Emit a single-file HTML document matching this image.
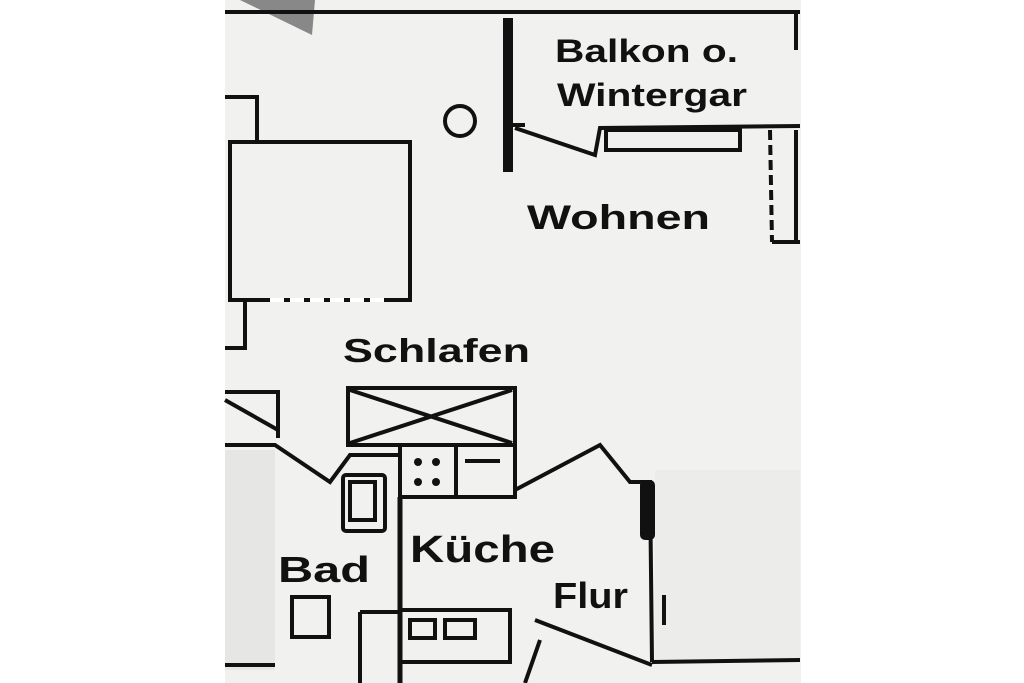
<!DOCTYPE html>
<html><head><style>
html,body{margin:0;padding:0;background:#fff;}
svg{display:block}
text{font-family:"Liberation Sans",sans-serif;fill:#111;}
</style></head><body>
<svg width="1024" height="683" viewBox="0 0 1024 683">
<rect x="0" y="0" width="1024" height="683" fill="#fff"/>
<rect x="225" y="0" width="576" height="683" fill="#f1f1ef"/>
<rect x="225" y="450" width="50" height="220" fill="#e6e6e4"/>
<rect x="655" y="470" width="145" height="190" fill="#ececeb"/>
<polygon points="240,0 315,0 312,35" fill="#888"/>
<g stroke="#111" fill="none" stroke-width="4">
<line x1="225" y1="12" x2="800" y2="12"/>
<line x1="508" y1="18" x2="508" y2="172" stroke-width="10"/>
<line x1="508" y1="125" x2="525" y2="125"/>
<circle cx="460" cy="121" r="15"/>
<polyline points="515,128 595,155 600,128 800,126"/>
<rect x="606" y="130" width="134" height="20"/>
<line x1="770" y1="130" x2="772" y2="242" stroke-dasharray="10 5"/>
<line x1="772" y1="242" x2="800" y2="242"/>
<line x1="796" y1="12" x2="796" y2="50"/>
<line x1="796" y1="130" x2="796" y2="240"/>
<polyline points="225,97 257,97 257,142"/>
<rect x="230" y="142" width="180" height="158"/>
<line x1="270" y1="300" x2="390" y2="300" stroke-dasharray="14 6" stroke="#fff"/>
<polyline points="245,300 245,348 225,348"/>
<rect x="348" y="388" width="167" height="57"/>
<line x1="350" y1="390" x2="512" y2="443"/>
<line x1="350" y1="443" x2="512" y2="390"/>
<rect x="400" y="445" width="115" height="52"/>
<line x1="456" y1="447" x2="456" y2="497"/>
<line x1="465" y1="461" x2="500" y2="461"/>
<line x1="400" y1="497" x2="400" y2="683" stroke-width="5"/>
<polyline points="225,392 278,392 278,438"/>
<line x1="225" y1="400" x2="278" y2="430"/>
<polyline points="225,445 275,445 330,482 350,455 398,455"/>
<rect x="343" y="475" width="42" height="56" rx="3"/>
<rect x="350" y="482" width="25" height="38"/>
<rect x="292" y="597" width="37" height="40"/>
<polyline points="515,490 600,445 630,482 650,482 652,662"/>
<rect x="400" y="610" width="110" height="52"/>
<rect x="410" y="620" width="25" height="18"/>
<rect x="445" y="620" width="30" height="18"/>
<line x1="360" y1="612" x2="360" y2="683"/>
<line x1="360" y1="612" x2="400" y2="612"/>
<line x1="535" y1="620" x2="652" y2="665"/>
<line x1="540" y1="640" x2="525" y2="683"/>
<line x1="652" y1="662" x2="800" y2="660"/>
<line x1="225" y1="665" x2="275" y2="665"/>
<line x1="664" y1="595" x2="664" y2="625"/>
</g>
<rect x="640" y="480" width="15" height="60" rx="5" fill="#111"/>
<circle cx="418" cy="462" r="4" fill="#111"/><circle cx="418" cy="482" r="4" fill="#111"/>
<circle cx="436" cy="462" r="4" fill="#111"/><circle cx="436" cy="482" r="4" fill="#111"/>
<g font-weight="bold">
<text x="555" y="62" font-size="32" textLength="183" lengthAdjust="spacingAndGlyphs">Balkon o.</text>
<text x="557" y="106" font-size="32" textLength="190" lengthAdjust="spacingAndGlyphs">Wintergar</text>
<text x="527" y="229" font-size="34" textLength="183" lengthAdjust="spacingAndGlyphs">Wohnen</text>
<text x="343" y="362" font-size="33" textLength="187" lengthAdjust="spacingAndGlyphs">Schlafen</text>
<text x="410" y="562" font-size="38" textLength="145" lengthAdjust="spacingAndGlyphs">Küche</text>
<text x="278" y="582" font-size="36" textLength="92" lengthAdjust="spacingAndGlyphs">Bad</text>
<text x="553" y="608" font-size="36" textLength="75" lengthAdjust="spacingAndGlyphs">Flur</text>
</g>
</svg>
</body></html>
